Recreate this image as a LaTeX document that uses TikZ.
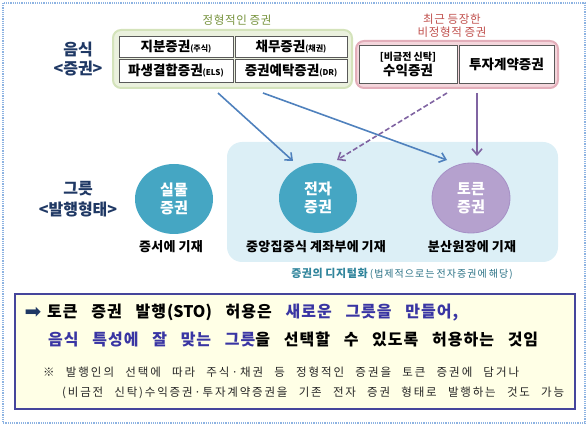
\documentclass[tikz,border=0pt]{standalone}
\usepackage{fontspec}
\setmainfont{Noto Sans CJK KR}
\newfontfamily\dejavu{DejaVu Sans}
\usetikzlibrary{arrows.meta,shapes.geometric}
% letter spacing between Hangul syllables
\newdimen\lsamt \lsamt=0pt
\newcommand{\setls}[1]{\lsamt=#1\relax}
\XeTeXinterchartokenstate=1
\count255="AC00
\loop
  \XeTeXcharclass\count255=10
  \ifnum\count255<"D7A3 \advance\count255 by 1
\repeat
\XeTeXinterchartoks 10 10 = {\kern\lsamt}
\XeTeXinterchartoks 10 0 = {\kern\lsamt}
\XeTeXinterchartoks 0 10 = {\kern\lsamt}
\definecolor{outerc}{HTML}{8DB3E2}
\definecolor{grfill}{HTML}{EBF1DE}
\definecolor{grdraw}{HTML}{D4E3BB}
\definecolor{grtext}{HTML}{76923C}
\definecolor{rdfill}{HTML}{F4D6DC}
\definecolor{rddraw}{HTML}{E3AEBA}
\definecolor{rdtext}{HTML}{C0504D}
\definecolor{navy}{HTML}{1F3864}
\definecolor{regfill}{HTML}{DCEFF6}
\definecolor{teal}{HTML}{45A6C3}
\definecolor{tealtext}{HTML}{31859C}
\definecolor{tokfill}{HTML}{B5A1CE}
\definecolor{tokdraw}{HTML}{A690C6}
\definecolor{arrblue}{HTML}{4F81BD}
\definecolor{arrpurp}{HTML}{8064A2}
\definecolor{notefill}{HTML}{FFFFE6}
\definecolor{notedraw}{HTML}{45459C}
\definecolor{bltext}{HTML}{3935A3}
\newcommand{\fs}[1]{\fontsize{#1}{#1}\selectfont}
\tikzset{
  secbox/.style={draw=black!65, line width=0.8pt, fill=white, inner sep=0pt},
  sidelabel/.style={text=navy, font=\bfseries\fs{16}, inner sep=0pt},
  circ/.style={ellipse, minimum width=78pt, minimum height=70pt, inner sep=0pt, text=white, font=\bfseries\fs{15}, align=center},
  under/.style={font={\bfseries\fs{13}\setls{0.3pt}}, inner sep=0pt},
  arr/.style={line width=1.6pt, -{Straight Barb[length=6pt,width=10pt,line width=1.6pt]}},
  toptitle/.style={font={\fs{11.5}\setls{0.7pt}}, inner sep=0pt},
}
\begin{document}
\begin{tikzpicture}[x=1pt,y=-1pt]
\useasboundingbox (0,0) rectangle (588,427);
% outer dotted frame
\draw[outerc, densely dotted, line width=1.2pt] (3,3) rectangle (585,423);

% top groups
\node[toptitle, text=grtext] (gtitle) at (237,20) {정형적인 증권};
\draw[grdraw, fill=grfill, line width=2pt, rounded corners=8pt] (113,30) rectangle (352,88);
\node[secbox, minimum width=114pt, minimum height=21pt] (b1) at (176,46.5) {\bfseries\fs{13.5}지분증권\fs{8}(주식)};
\node[secbox, minimum width=112pt, minimum height=21pt] (b2) at (291,46.5) {\bfseries\fs{13.5}채무증권\fs{8}(채권)};
\node[secbox, minimum width=114pt, minimum height=23pt] (b3) at (176,70.5) {\bfseries\fs{13.5}파생결합증권\fs{8}(ELS)};
\node[secbox, minimum width=112pt, minimum height=23pt] (b4) at (291,70.5) {\bfseries\fs{13.5}증권예탁증권\fs{8}(DR)};

\node[toptitle, text=rdtext] (rtitle1) at (452,19.5) {최근 등장한};
\node[toptitle, text=rdtext] (rtitle2) at (452,32.5) {비정형적 증권};
\draw[rddraw, fill=rdfill, line width=2pt, rounded corners=8pt] (356,41) rectangle (558,88);
\node[secbox, minimum width=98pt, minimum height=38pt, align=center] (b5) at (408,64) {\bfseries\fs{10}[비금전 신탁]\\[1pt]\bfseries\fs{13.5}수익증권};
\node[secbox, minimum width=95pt, minimum height=38pt] (b6) at (506.5,64) {\bfseries\fs{13.5}투자계약증권};

% side labels
\node[sidelabel] (l1) at (78,50) {음식};
\node[sidelabel] (l2) at (78,69) {\textless 증권\textgreater};
\node[sidelabel] (l3) at (78,189) {그릇};
\node[sidelabel] (l4) at (78,209) {\textless 발행형태\textgreater};

% digital region
\fill[regfill, rounded corners=15pt] (227,142) rectangle (558,262);
\node[inner sep=0pt] (dig) at (402,274) {\textcolor{tealtext}{\bfseries\fs{11}\setls{0.6pt}증권의 디지털화}\textcolor{tealtext!85!black}{\fs{10}\setls{1pt}\ (법제적으로는 전자증권에 해당)}};

% circles
\node[circ, fill=teal] (sil) at (174,199) {실물\\[3pt]증권};
\node[circ, fill=teal] (jeon) at (318,198) {전자\\[3pt]증권};
\node[circ, fill=tokfill, draw=tokdraw, line width=0.8pt] (tok) at (471,198) {토큰\\[3pt]증권};
\node[under] (u1) at (171,247) {증서에 기재};
\node[under] (u2) at (316,247) {중앙집중식 계좌부에 기재};
\node[under] (u3) at (472,247) {분산원장에 기재};

% arrows
\coordinate (s1) at (218,93);
\coordinate (e1) at (293,161);
\coordinate (s2) at (263,93);
\coordinate (e2) at (447,160);
\coordinate (s3) at (447,93);
\coordinate (e3) at (337,160);
\coordinate (s4) at (477,93);
\coordinate (e4) at (477,156);
\draw[arr, arrblue] (s1) -- (e1);
\draw[arr, arrblue] (s2) -- (e2);
\draw[arr, arrpurp, dash pattern=on 5pt off 2.5pt] (s3) -- (e3);
\draw[arr, arrpurp] (s4) -- (e4);

% bottom note
\node[draw=notedraw, fill=notefill, line width=1.8pt, minimum width=560pt, minimum height=115pt, inner sep=0pt] (note) at (295,351.5) {};
\node[inner sep=0pt, text=navy] (ar) at (33,312.5) {\dejavu\fs{20}➡};
\node[anchor=west, inner sep=0pt] (t1) at (47,312.5) {\bfseries\fs{16}\setls{1pt}\makebox[411pt][s]{토큰 증권 발행(STO) 허용은 \textcolor{bltext}{새로운 그릇을 만들어,}}};
\node[anchor=west, inner sep=0pt] (t2) at (48,339) {\bfseries\fs{16}\setls{1pt}\makebox[490pt][s]{\textcolor{bltext}{음식 특성에 잘 맞는 그릇}을 선택할 수 있도록 허용하는 것임}};
\node[anchor=west, inner sep=0pt, text=black!85] (n1) at (43,372) {\fs{11.5}\setls{2pt}\makebox[476pt][s]{※ 발행인의 선택에 따라 주식·채권 등 정형적인 증권을 토큰 증권에 담거나}};
\node[anchor=west, inner sep=0pt, text=black!85] (n2) at (62,393) {\fs{11.5}\setls{1.8pt}\makebox[502pt][s]{(비금전 신탁)수익증권·투자계약증권을 기존 전자 증권 형태로 발행하는 것도 가능}};
\end{tikzpicture}
\end{document}
